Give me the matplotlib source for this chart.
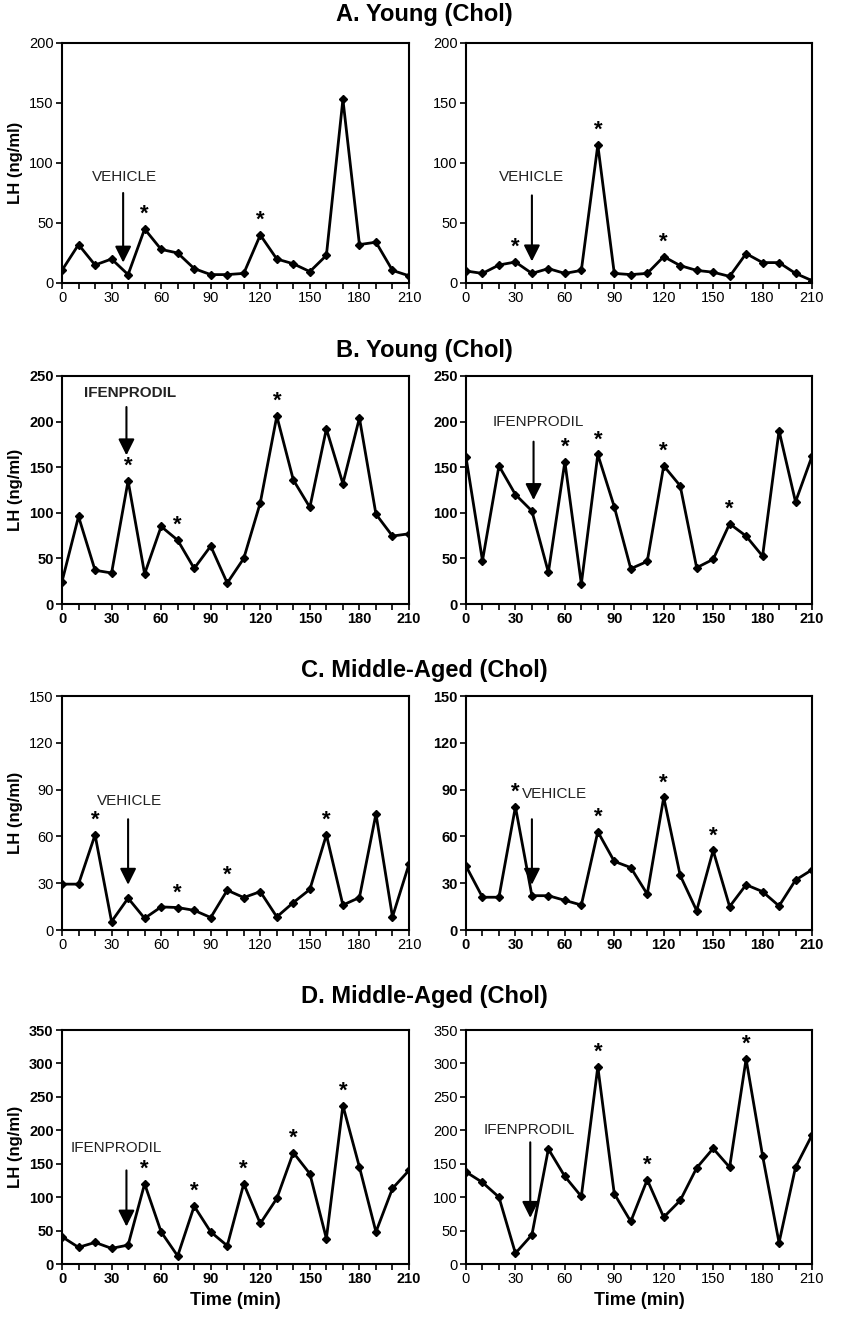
import numpy as np
import matplotlib.pyplot as plt

plt.rcParams['font.family'] = ['Liberation Sans', 'DejaVu Sans']

times = np.arange(0, 211, 10)

# LH (ng/ml)
a_left = [10.6, 32, 15, 20, 7, 45, 28, 25, 12, 7, 7, 8, 40, 20, 16, 9.5, 23, 153, 32, 34, 10.5, 6]
a_right = [10, 8, 15, 17.5, 8, 12, 8, 10.5, 115, 8, 7, 8, 22, 14.5, 10.5, 9, 5.5, 24.5, 17, 17, 8, 2]
b_left = [24.5, 96, 37, 34, 135, 33, 85, 70, 39, 63.5, 23, 50, 111, 206, 136, 106, 192, 132, 204, 98.5, 74.5, 77]
b_right = [161, 47.5, 151.5, 120, 102, 34.7, 156, 22, 164, 106.6, 38.7, 46.7, 151.5, 129.6, 39.8, 49, 88, 74.5, 52.5, 190, 112, 162]
c_left = [29.4, 29.4, 61, 5.4, 20.4, 7.5, 14.8, 14.4, 12.6, 8, 25.5, 20.8, 24.6, 8.4, 17.6, 26, 61, 16, 20.8, 74.4, 8.4, 42.2]
c_right = [41, 21, 21, 79, 22, 22, 19, 16, 63, 44, 40, 23, 85, 35, 12.4, 51, 15, 29, 24.6, 15.4, 32, 38.6]
d_left = [40.8, 24.9, 32.3, 23.4, 28.3, 120, 48, 12, 86.5, 48, 27.3, 120, 60.6, 98, 166.6, 135, 38, 237, 145, 48, 113, 140]
d_right = [137.7, 122, 100, 16, 43.6, 172, 131, 101, 295, 105, 63.6, 126, 70, 95, 143.7, 172.8, 144.7, 306.5, 162, 32, 144.7, 192.8]

# times marked with an asterisk
a_left_stars = [50, 120]
a_right_stars = [30, 80, 120]
b_left_stars = [40, 70, 130]
b_right_stars = [60, 80, 120, 160]
c_left_stars = [20, 70, 100, 160]
c_right_stars = [30, 80, 120, 150]
d_left_stars = [50, 80, 110, 140, 170]
d_right_stars = [80, 110, 170]

row_titles = ['A. Young (Chol)', 'B. Young (Chol)', 'C. Middle-Aged (Chol)', 'D. Middle-Aged (Chol)']

W, H = 849, 1344
fig = plt.figure(figsize=(W / 100, H / 100), dpi=100)

# pixel boxes (top, bottom) of each row and (left, right) of each column
row_px = [(43, 283), (376, 604), (696, 930), (1030, 1264)]
col_px = [(62, 409), (466, 812)]
title_px = [15, 350, 671, 996]


def make_ax(r, c):
    top, bot = row_px[r]
    l, rr = col_px[c]
    return fig.add_axes([l / W, 1 - bot / H, (rr - l) / W, (bot - top) / H])


def draw(ax, vals, stars, ymax, ystep, label, arrow, text_pos, text_bold=False, text_ha='center', bold_ticks=False):
    ax.plot(times, vals, color='black', lw=2.0, marker='D', ms=4.5, mfc='black', mec='black')
    ax.set_xlim(0, 210)
    ax.set_ylim(0, ymax)
    ax.set_xticks(np.arange(0, 211, 30))
    ax.set_xticks(np.arange(0, 211, 10), minor=True)
    ax.set_yticks(np.arange(0, ymax + 1, ystep))
    w = 'bold' if bold_ticks else 'normal'
    ax.tick_params(axis='both', which='both', direction='out', length=4, width=1.2, labelsize=10.5, pad=2)
    for t in ax.get_xticklabels() + ax.get_yticklabels():
        t.set_fontweight(w)
    for s in ax.spines.values():
        s.set_linewidth(1.5)
        s.set_color('black')
    for st in stars:
        v = vals[list(times).index(st)]
        ax.annotate('*', (st, v), xytext=(0, 3), textcoords='offset points',
                    ha='center', va='bottom', fontsize=16, fontweight='bold')
    x, y0, y1 = arrow
    ax.annotate('', xy=(x, y1), xytext=(x, y0),
                arrowprops=dict(arrowstyle='-|>,head_width=0.35,head_length=0.7',
                                mutation_scale=14, lw=1.5, color='black', shrinkA=0, shrinkB=0))
    ax.text(text_pos[0], text_pos[1], label, ha=text_ha, va='center', fontsize=11,
            fontweight='bold' if text_bold else 'normal', color='#222222')


ax = make_ax(0, 0)
draw(ax, a_left, a_left_stars, 200, 50, 'VEHICLE', (37, 75, 17), (38, 88))
ax = make_ax(0, 1)
draw(ax, a_right, a_right_stars, 200, 50, 'VEHICLE', (40, 73, 18), (40, 88))
ax = make_ax(1, 0)
draw(ax, b_left, b_left_stars, 250, 50, 'IFENPRODIL', (39, 216, 163), (41, 231), text_bold=True, bold_ticks=True)
ax = make_ax(1, 1)
draw(ax, b_right, b_right_stars, 250, 50, 'IFENPRODIL', (41, 178, 114), (44, 200), bold_ticks=True)
ax = make_ax(2, 0)
draw(ax, c_left, c_left_stars, 150, 30, 'VEHICLE', (40, 71, 29), (41, 83))
ax = make_ax(2, 1)
draw(ax, c_right, c_right_stars, 150, 30, 'VEHICLE', (40, 71, 29), (34, 87), text_ha='left', bold_ticks=True)
ax = make_ax(3, 0)
draw(ax, d_left, d_left_stars, 350, 50, 'IFENPRODIL', (39, 140, 56), (33, 174), bold_ticks=True)
ax.set_xlabel('Time (min)', fontsize=13, fontweight='bold', labelpad=4)
ax = make_ax(3, 1)
draw(ax, d_right, d_right_stars, 350, 50, 'IFENPRODIL', (39, 182, 69), (38.5, 200))
ax.set_xlabel('Time (min)', fontsize=13, fontweight='bold', labelpad=4)

for r in range(4):
    fig.text(424 / W, 1 - title_px[r] / H, row_titles[r], ha='center', va='center',
             fontsize=17, fontweight='bold')
    top, bot = row_px[r]
    fig.text(16 / W, 1 - (top + bot) / 2 / H, 'LH (ng/ml)', rotation=90, ha='center', va='center',
             fontsize=12, fontweight='bold')

fig.savefig('out.png', dpi=100)
